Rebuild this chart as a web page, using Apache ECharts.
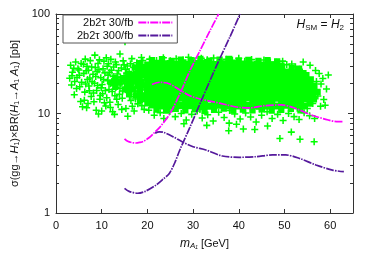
<!DOCTYPE html>
<html><head><meta charset="utf-8">
<script src="https://cdn.jsdelivr.net/npm/echarts@6.0.0/dist/echarts.min.js"></script>
<style>html,body{margin:0;padding:0;background:#fff}#c{width:374px;height:262px}</style>
</head><body><div id="c"></div>
<script>
// ---- data ----
const seriesNames = ['2b2τ 30/fb', '2b2τ 300/fb'];
const yMinorTicks = [2,3,4,5,6,7,8,9,20,30,40,50,60,70,80,90];

const mag30RiseX = [15.0, 15.7, 16.6, 17.5, 18.3, 19.1, 20.5, 21.5, 22.7, 24.9, 27.1, 29.3, 31.5, 33.7, 35.6];
const mag30RiseY = [5.57, 5.25, 5.1, 5.05, 5.12, 5.25, 5.77, 6.4, 7.26, 9.9, 15.7, 26.9, 42.8, 68, 100];
const mag30FallX = [21.0, 22.7, 24.9, 27.1, 29.3, 31.5, 33.7, 35.8, 38.0, 40.2, 42.4, 45.7, 49.4, 52.3, 55.9, 59.6, 61.4, 62.9];
const mag30FallY = [19.6, 20.6, 19.8, 17.2, 15.1, 14.0, 13.3, 12.7, 12.0, 11.5, 11.4, 12.0, 12.2, 11.3, 9.66, 8.6, 8.3, 8.3];
const pur300RiseX = [15.0, 16.0, 17.9, 19.5, 21.9, 23.5, 24.8, 26.0, 27.1, 29.3, 31.5, 33.7, 35.8, 38.0, 40.3];
const pur300RiseY = [1.77, 1.65, 1.58, 1.65, 1.91, 2.2, 2.5, 3.2, 4.3, 7.26, 12.5, 21.4, 35.3, 58, 100];
const pur300FallX = [21.7, 22.6, 23.6, 25.6, 27.8, 30.0, 32.8, 36.4, 40.1, 43.7, 47.4, 50.3, 53.2, 56.9, 60.5, 63.0];
const pur300FallY = [6.35, 6.55, 6.45, 5.85, 5.14, 4.64, 4.3, 3.74, 3.63, 3.68, 3.83, 3.83, 3.55, 3.04, 2.7, 2.6];

// dense core of the scan (drawn with larger + markers)
const densePoints = [
[21.0,31.0],[23.2,31.8],[25.3,30.6],[27.3,31.5],[29.5,31.0],[31.6,32.0],[33.6,30.8],[35.8,31.4],[37.9,31.9],[40.0,30.7],[42.1,31.2],[44.3,30.5],[46.3,31.0],[48.4,30.2],
[20.0,26.5],[22.1,27.2],[24.2,26.0],[26.3,26.9],[28.4,27.4],[30.5,26.3],[32.7,26.8],[34.8,27.0],[36.9,26.2],[39.0,27.3],[41.1,26.6],[43.2,26.9],[45.3,26.1],[47.4,27.1],[49.5,26.4],[51.6,25.8],[53.2,25.5],
[21.0,22.9],[23.1,22.3],[25.2,23.1],[27.4,22.6],[29.5,22.0],[31.6,23.2],[33.7,22.7],[35.8,22.4],[37.9,23.0],[40.0,22.5],[42.2,22.8],[44.3,22.2],[46.4,23.1],[48.5,22.6],[50.6,22.9],[52.7,22.4],[54.8,22.0],
[20.0,19.2],[22.1,19.7],[24.2,19.0],[26.3,19.5],[28.4,19.9],[30.5,19.1],[32.6,19.6],[34.7,19.3],[36.8,19.8],[38.9,19.0],[41.0,19.4],[43.1,19.7],[45.2,19.2],[47.3,19.5],[49.4,19.1],[51.5,19.6],[53.6,19.3],[55.6,19.0],
[21.0,16.6],[23.1,16.2],[25.2,16.8],[27.3,16.4],[29.4,16.1],[31.5,16.7],[33.6,16.3],[35.7,16.9],[37.8,16.5],[39.9,16.2],[42.0,16.7],[44.1,16.4],[46.2,16.0],[48.3,16.6],[50.4,16.3],[52.5,16.8],[54.6,16.2],[56.3,16.5],
[20.0,14.0],[22.1,14.4],[24.2,13.8],[26.3,14.2],[28.4,14.5],[30.5,13.9],[32.6,14.3],[34.7,14.0],[36.8,14.6],[38.9,13.8],[41.0,14.2],[43.1,14.4],[45.2,13.9],[47.3,14.1],[49.4,14.5],[51.5,13.8],[53.6,14.2],[55.5,13.9],
[22.0,12.1],[24.1,11.8],[26.2,12.3],[28.3,11.9],[30.4,12.2],[32.5,11.7],[34.6,12.0],[36.7,12.4],[38.8,11.8],[40.9,12.1],[43.0,11.9],[45.1,12.2],[47.2,11.8],[49.3,12.0],[51.4,12.3],[53.5,11.9],
[18.2,29.0],[17.8,21.0],[18.4,15.2],[18.0,24.5],[15.8,22.0],[16.0,17.5],[13.0,20.5]
];

// individually visible scan points
const scanPoints = [
[3.2,30.5],[3.0,22.6],[3.4,19.3],[4.0,15.4],[3.6,26.0],[4.3,33.0],[4.8,28.1],[4.5,17.8],[5.1,24.2],[5.4,13.2],[5.8,11.7],[5.6,20.6],[6.0,31.2],[6.3,16.4],[6.6,26.9],[6.9,22.0],[7.2,18.9],[7.0,12.6],[7.5,34.0],[7.8,29.3],[7.7,14.8],[8.1,24.8],[8.4,20.1],[8.5,38.6],[8.8,10.8],[8.9,17.0],[9.2,31.8],[9.4,27.5],[9.6,13.9],[9.8,22.9],[10.1,19.6],[10.2,15.8],[10.5,33.5],[10.7,25.6],[10.9,11.9],[11.2,29.9],[11.3,21.3],[11.6,17.4],[11.8,13.0],[12.0,35.0],[12.1,27.2],[12.4,10.4],[12.5,23.5],[12.7,19.0],[12.9,15.1],[13.2,31.0],[13.4,25.0],[13.6,12.3],[13.8,21.9],[14.0,39.6],[14.0,17.9],[14.3,28.6],[14.5,14.2],[14.7,33.8],[14.9,24.0],[15.1,52.6],[15.0,19.9],[15.3,11.2],[15.6,30.0],[15.7,9.4],[15.8,16.3],[16.0,26.4],[16.2,21.0],[16.4,13.5],[16.6,35.6],[16.8,18.5],[17.0,29.0],[17.1,10.6],[17.3,23.2],[17.5,15.5],[17.7,32.4],[17.9,12.5],[18.1,20.4],[18.3,27.0],[18.5,17.2],[18.7,36.5],[18.9,14.6],[19.1,24.6],[19.3,11.0],[19.5,30.8],[19.7,19.5],[19.9,16.0],
[4.1,21.0],[5.0,27.4],[6.2,13.6],[6.8,29.8],[7.4,22.7],[8.2,16.1],[9.0,26.3],[9.9,18.1],[10.6,12.8],[11.4,24.3],[12.2,20.9],[13.0,33.0],[13.9,15.6],[14.8,21.6],[15.5,25.4],[16.3,31.6],[17.4,14.0],[18.2,22.3],[19.0,34.1],[19.6,21.9],[11.0,36.4],[6.4,35.2],[9.3,9.9],[12.8,9.8],
[3.5,24.0],[3.9,28.5],[4.6,23.0],[5.2,18.6],[5.5,31.8],[6.1,25.3],[6.5,19.8],[7.1,27.2],[7.3,16.9],[7.9,20.8],[8.3,13.1],[8.6,29.0],[8.7,23.6],[9.1,19.1],[9.5,34.6],[9.7,15.2],[10.3,28.2],[10.4,22.0],[10.8,17.0],[11.1,14.4],[11.5,31.6],[11.7,26.0],[11.9,19.9],[12.3,16.6],[12.6,29.4],[12.9,22.4],[13.1,18.3],[13.3,13.9],[13.7,27.0],[14.1,23.2],[14.2,20.0],[14.6,16.8],[14.9,30.8],[15.2,27.8],[15.4,22.6],[15.9,18.9],[16.1,14.7],[16.5,24.0],[16.9,20.2],[17.2,16.8],[17.6,26.3],[17.8,18.2],[18.0,30.2],[18.4,24.8],[18.6,15.6],[18.8,12.0],[19.2,28.2],[19.4,17.6],[19.8,25.8],[19.9,13.2],[10.0,10.6],[14.4,11.0],[6.7,11.4],[11.9,11.5],[16.7,11.8],
[20.5,35.2],[22.0,34.0],[23.5,36.3],[25.0,33.8],[26.3,35.5],[27.8,34.4],[29.0,36.8],[30.4,33.9],[31.8,35.9],[33.1,34.6],[34.5,36.1],[35.9,33.7],[37.2,35.0],[38.6,34.2],[40.0,36.0],[41.3,33.5],[42.8,34.8],[44.1,33.2],[45.5,34.5],[46.9,33.0],[48.2,32.8],[49.6,33.6],[50.5,31.0],[51.6,31.5],[52.4,29.5],[54.1,33.0],[55.6,30.6],[53.3,27.8],[56.8,27.0],[57.6,25.2],[58.4,22.5],[59.6,24.4],[58.0,19.8],[59.2,17.6],[57.3,15.0],[58.6,13.8],[57.0,21.0],[56.2,12.6],[55.0,11.2],[57.9,11.8],[58.9,12.1],
[20.3,10.8],[21.5,9.6],[22.8,10.2],[23.6,8.9],[24.9,10.5],[26.1,9.3],[27.4,10.0],[28.5,8.6],[29.7,9.8],[30.9,10.6],[32.0,9.0],[33.2,9.7],[34.4,8.4],[35.6,10.3],[36.8,9.1],[37.9,8.0],[39.1,9.9],[40.3,8.8],[41.5,10.1],[42.6,9.2],[43.8,8.2],[45.0,9.6],[46.2,10.4],[47.3,8.9],[48.5,9.8],[49.7,8.5],[50.9,10.0],[52.1,9.3],[53.2,8.7],[54.3,10.2],[55.5,9.5],[56.6,8.9],[25.5,11.2],[31.5,11.0],[38.0,10.7],[44.5,11.1],[52.8,11.3],
[37.8,6.7],[41.0,7.0],[43.5,6.9],[49.0,5.6],[51.5,6.5],[53.4,5.5],[56.5,5.2],[46.3,7.5],[33.0,7.6],[28.0,7.9],[39.5,7.8]
];

// ---- chart ----
const zip = (xs, ys) => xs.map((x, i) => [x, ys[i]]);
const FONT = "'Liberation Sans', Arial, sans-serif";
const AX = '#333';
const plusSmall = 'path://M0,3.9H10V6.1H0Z M3.9,0H6.1V10H3.9Z';
const plusBig = 'path://M0,2.9H10V7.1H0Z M2.9,0H7.1V10H2.9Z';
const MAG = '#ff00ff', PUR = '#55199c';
const magLine = {color: MAG, width: 1.7, type: [8, 1.2, 1.5, 1.2]};
const purLine = {color: PUR, width: 1.7, type: [8, 1.2, 1.5, 1.2]};

const chart = echarts.init(document.getElementById('c'), null, {renderer: 'canvas'});
const logY = (extra) => Object.assign({
  type: 'log', logBase: 10, min: 1, max: 100,
  splitLine: {show: false}, axisLabel: {show: false}
}, extra);
const valX = (extra) => Object.assign({
  type: 'value', min: 0, max: 65, interval: 10, splitLine: {show: false}
}, extra);
const lineSeries = (name, xs, ys, ls, color) => ({
  type: 'line', name, data: zip(xs, ys), smooth: 0.3, symbol: 'none', showSymbol: false,
  lineStyle: ls, itemStyle: {color}, zlevel: 1, z: 5, silent: true
});

chart.setOption({
  animation: false,
  textStyle: {fontFamily: FONT},
  grid: {left: 56, right: 21, top: 14, bottom: 49, containLabel: false},
  legend: {
    data: seriesNames,
    orient: 'vertical', left: 63, top: 15,
    align: 'right', itemWidth: 34, itemHeight: 10, itemGap: 2,
    padding: [2, 4, 2, 14],
    backgroundColor: '#fff', borderColor: '#555', borderWidth: 1,
    itemStyle: {color: 'rgba(0,0,0,0)', borderWidth: 0, borderColor: 'rgba(0,0,0,0)'},
    formatter: n => '{a|' + n + '}',
    textStyle: {fontSize: 11, color: '#111', fontFamily: FONT,
      rich: {a: {width: 58, align: 'right', fontSize: 11, fontFamily: FONT, color: '#111'}}}
  },
  xAxis: [
    valX({position: 'bottom',
      axisLine: {lineStyle: {color: AX, width: 1}},
      axisTick: {inside: true, length: 4, lineStyle: {color: AX}},
      axisLabel: {fontSize: 11, color: '#111', margin: 7, showMaxLabel: false},
      name: '{i|m}{s|A₁} [GeV]', nameLocation: 'middle', nameGap: 24,
      nameTextStyle: {fontSize: 11, color: '#111', rich: {
        i: {fontStyle: 'italic', fontSize: 12, fontFamily: FONT},
        s: {fontStyle: 'italic', fontSize: 8, verticalAlign: 'bottom', padding: [5, 0, 0, 0], fontFamily: FONT}
      }}}),
    valX({position: 'top',
      axisLine: {lineStyle: {color: AX, width: 1}},
      axisTick: {inside: true, length: 4, lineStyle: {color: AX}},
      axisLabel: {show: false}})
  ],
  yAxis: [
    logY({position: 'left',
      axisLine: {show: true, lineStyle: {color: AX, width: 1}},
      axisTick: {inside: true, length: 5, lineStyle: {color: AX}},
      axisLabel: {show: true, fontSize: 11, color: '#111', margin: 6},
      name: 'σ(gg→{i|H}₁)×BR({i|H}₁→{i|A}₁ {i|A}₁) [pb]',
      nameLocation: 'middle', nameRotate: 90, nameGap: 36,
      nameTextStyle: {fontSize: 11, color: '#111', rich: {i: {fontStyle: 'italic', fontSize: 11, fontFamily: FONT}}}}),
    logY({position: 'left', axisLine: {show: false},
      axisTick: {inside: true, length: 3, customValues: yMinorTicks, lineStyle: {color: AX}}}),
    logY({position: 'right', axisLine: {show: true, lineStyle: {color: AX, width: 1}},
      axisTick: {inside: true, length: 5, lineStyle: {color: AX}}}),
    logY({position: 'right', axisLine: {show: false},
      axisTick: {inside: true, length: 3, customValues: yMinorTicks, lineStyle: {color: AX}}})
  ],
  graphic: [{
    type: 'text', right: 30, top: 19, z: 10,
    style: {
      text: '{i|H}{s|SM}{n| = }{i|H}{s|2}',
      rich: {
        i: {fontStyle: 'italic', fontSize: 12, fontFamily: FONT, fill: '#111'},
        n: {fontSize: 12, fontFamily: FONT, fill: '#111'},
        s: {fontSize: 8, fontFamily: FONT, fill: '#111', verticalAlign: 'bottom', padding: [5, 0, 0, 0]}
      }
    }
  }],
  series: [
    {type: 'scatter', name: 'scan', data: densePoints, symbol: plusBig, symbolSize: 15,
      itemStyle: {color: '#00ff00', opacity: 1}, silent: true, z: 1},
    {type: 'scatter', name: 'scan2', data: scanPoints, symbol: plusSmall, symbolSize: 7,
      itemStyle: {color: '#00ff00', opacity: 1}, silent: true, z: 2},
    lineSeries(seriesNames[0], mag30RiseX, mag30RiseY, magLine, MAG),
    lineSeries(seriesNames[0], mag30FallX, mag30FallY, magLine, MAG),
    lineSeries(seriesNames[1], pur300RiseX, pur300RiseY, purLine, PUR),
    lineSeries(seriesNames[1], pur300FallX, pur300FallY, purLine, PUR)
  ]
});
</script></body></html>
